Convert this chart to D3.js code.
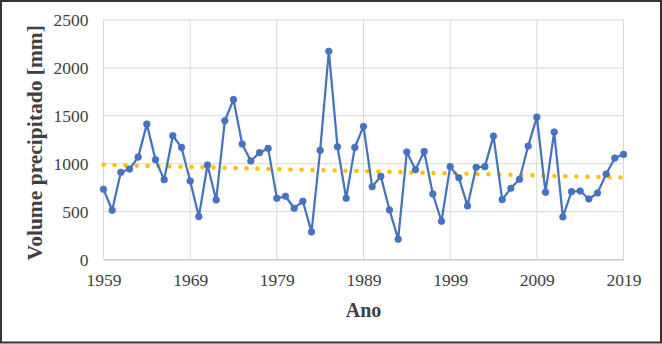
<!DOCTYPE html>
<html>
<head>
<meta charset="utf-8">
<script src="https://cdn.jsdelivr.net/npm/d3@7"></script>
<style>
  html, body { margin: 0; padding: 0; background: #fff; }
  svg { display: block; }
</style>
</head>
<body>
<svg id="chart" width="662" height="344"></svg>
<script>
const years = d3.range(1959, 2020);
const precip = [
  733, 514, 910, 944, 1069, 1413, 1042, 833, 1292, 1170,
  819, 448, 986, 622, 1448, 1670, 1205, 1028, 1115, 1160,
  639, 660, 535, 608, 288, 1139, 2174, 1177, 639, 1170,
  1389, 760, 868, 517, 212, 1122, 938, 1128, 684, 399,
  969, 854, 559, 962, 969, 1288, 625, 743, 837, 1184,
  1486, 701, 1330, 444, 708, 715, 632, 694, 892, 1059,
  1097
];
const xTicks = [1959, 1969, 1979, 1989, 1999, 2009, 2019];
const yTicks = [0, 500, 1000, 1500, 2000, 2500];

(function () {
const data = years.map((y, i) => ({ year: y, value: precip[i] }));
const serif = "'Liberation Serif', 'Times New Roman', serif";

const svg = d3.select("#chart");
const W = 662, H = 344;
const pL = 103.5, pR = 623.5, pT = 20, pB = 259.5;

// outer border
svg.append("rect").attr("x", 1).attr("y", 1).attr("width", W - 2).attr("height", H - 2.5)
  .attr("fill", "#fff").attr("stroke", "#333").attr("stroke-width", 2);

const x = d3.scaleLinear().domain([1959, 2019]).range([pL, pR]);
const yS = d3.scaleLinear().domain([0, 2500]).range([pB, pT]);

// gridlines
svg.append("g").selectAll("line").data(yTicks).join("line")
  .attr("x1", pL).attr("x2", pR)
  .attr("y1", d => yS(d)).attr("y2", d => yS(d))
  .attr("stroke", "#d9d9d9").attr("stroke-width", 1);
svg.append("g").selectAll("line").data(xTicks).join("line")
  .attr("x1", d => x(d)).attr("x2", d => x(d))
  .attr("y1", pT).attr("y2", pB)
  .attr("stroke", "#d9d9d9").attr("stroke-width", 1);

// axes via d3
const yAxis = svg.append("g").attr("transform", `translate(${pL},0)`)
  .call(d3.axisLeft(yS).tickValues(yTicks).tickFormat(d3.format("d")).tickSize(0).tickPadding(15));
yAxis.select(".domain").remove();
yAxis.attr("font-family", serif).attr("font-size", 17.5);
yAxis.selectAll("text").attr("fill", "#404040");

const xAxis = svg.append("g").attr("transform", `translate(0,${pB})`)
  .call(d3.axisBottom(x).tickValues(xTicks).tickFormat(d3.format("d")).tickSize(0).tickPadding(14));
xAxis.select(".domain").attr("stroke", "#bfbfbf");
xAxis.attr("font-family", serif).attr("font-size", 17.5);
xAxis.selectAll("text").attr("fill", "#404040");

// linear trend (least squares)
const mx = d3.mean(data, d => d.year), my = d3.mean(data, d => d.value);
const slope = d3.sum(data, d => (d.year - mx) * (d.value - my)) / d3.sum(data, d => (d.year - mx) ** 2);
const icpt = my - slope * mx;
const trend = [1959, 2019].map(yr => ({ year: yr, value: icpt + slope * yr }));

svg.append("path").datum(trend)
  .attr("d", d3.line().x(d => x(d.year)).y(d => yS(d.value)))
  .attr("fill", "none").attr("stroke", "#FFC000").attr("stroke-width", 4.5)
  .attr("stroke-linecap", "round").attr("stroke-dasharray", "0.1 10.9");

// series line
svg.append("path").datum(data)
  .attr("d", d3.line().x(d => x(d.year)).y(d => yS(d.value)))
  .attr("fill", "none").attr("stroke", "#4472C4").attr("stroke-width", 2.25)
  .attr("stroke-linejoin", "round");

svg.append("g").selectAll("circle").data(data).join("circle")
  .attr("cx", d => x(d.year)).attr("cy", d => yS(d.value)).attr("r", 3.3)
  .attr("fill", "#4472C4").attr("stroke", "#4472C4").attr("stroke-width", 0.75);

// titles
svg.append("text").attr("transform", `translate(37,${(pT + pB) / 2 + 3}) rotate(-90)`)
  .attr("text-anchor", "middle").attr("dominant-baseline", "middle")
  .attr("font-family", serif)
  .attr("font-weight", "bold").attr("font-size", 21.5).attr("fill", "#404040")
  .text("Volume precipitado [mm]");

svg.append("text").attr("x", (pL + pR) / 2).attr("y", 317)
  .attr("text-anchor", "middle")
  .attr("font-family", serif)
  .attr("font-weight", "bold").attr("font-size", 20).attr("fill", "#404040")
  .text("Ano");
})();
</script>
</body>
</html>
